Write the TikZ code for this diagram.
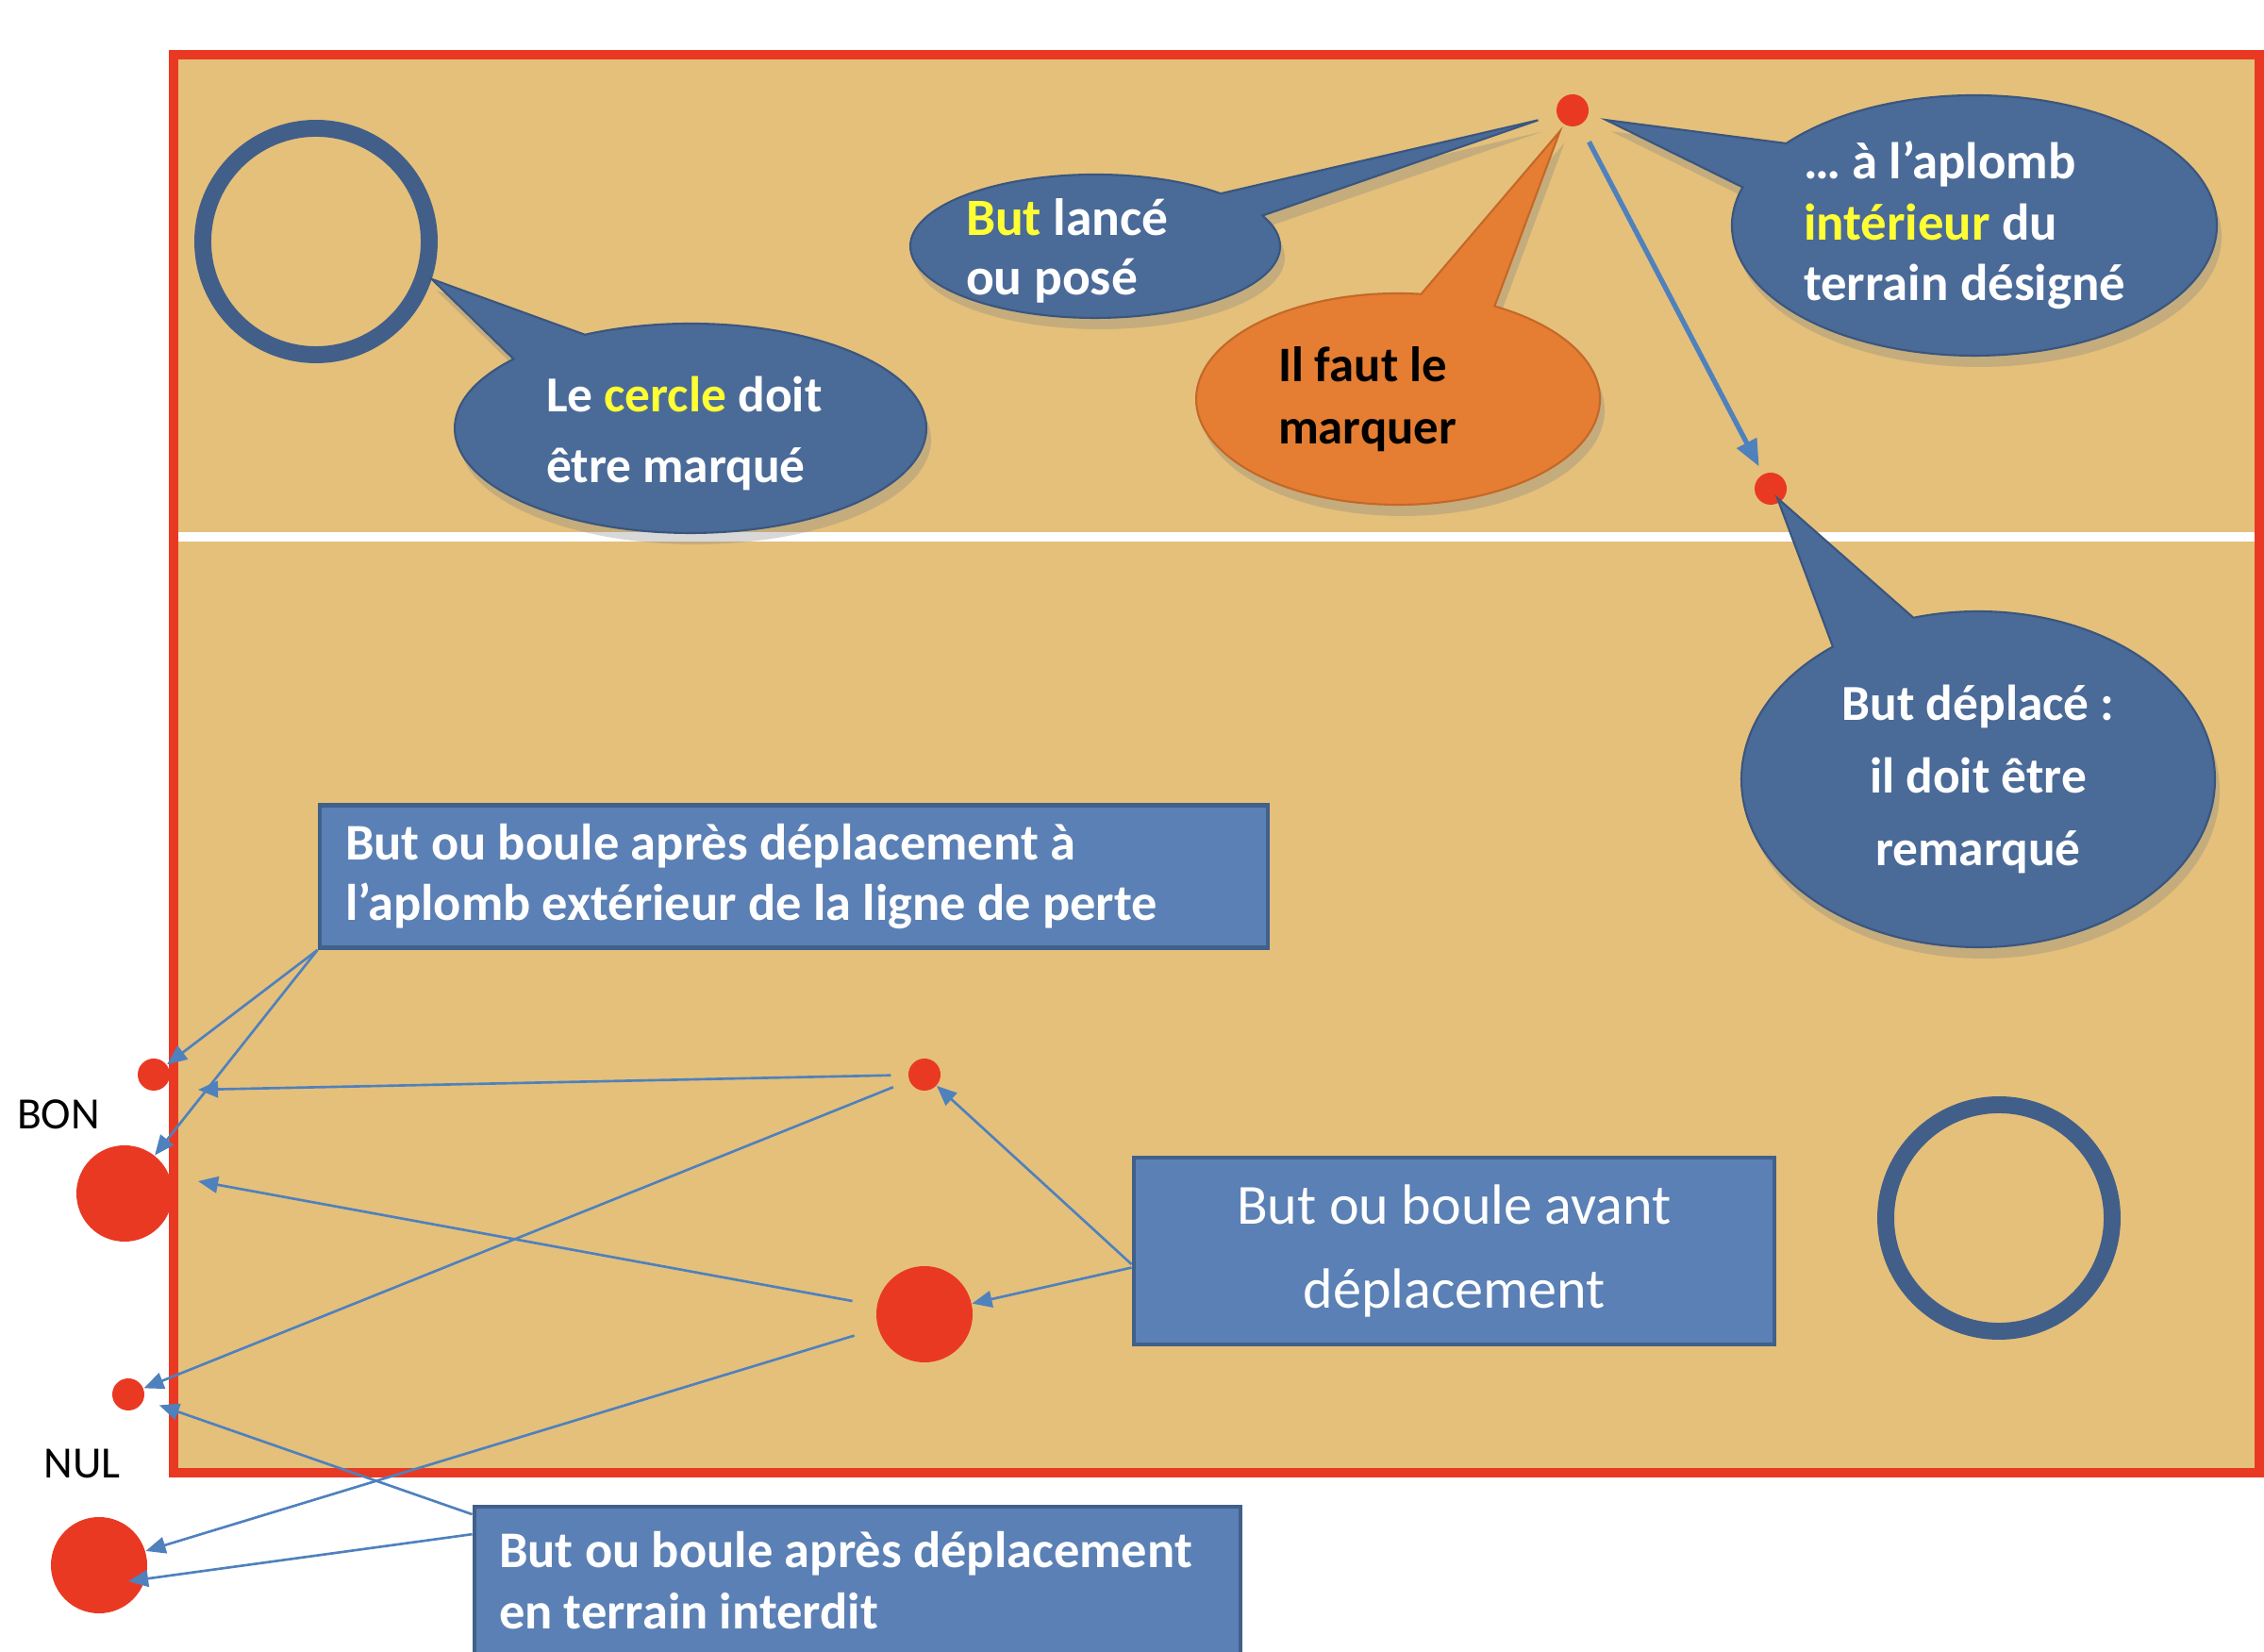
\documentclass[tikz,border=0pt]{standalone}
\usepackage{fontspec}
\setmainfont{Carlito}
\usepackage{xcolor}
\usepackage{tikz}
\usetikzlibrary{shapes.callouts,arrows.meta,shadows}
\definecolor{sand}{RGB}{228,192,123}
\definecolor{fieldred}{RGB}{233,57,35}
\definecolor{ringblue}{RGB}{65,95,137}
\definecolor{bubbleblue}{RGB}{74,106,152}
\definecolor{bubbleedge}{RGB}{58,86,126}
\definecolor{boxblue}{RGB}{91,128,181}
\definecolor{boxedge}{RGB}{65,96,138}
\definecolor{arrowblue}{RGB}{79,129,189}
\definecolor{bubbleorange}{RGB}{229,126,50}
\definecolor{orangeedge}{RGB}{196,104,40}
\definecolor{hilite}{RGB}{255,255,51}

\begin{document}
\begin{tikzpicture}[
		bubble/.style={ellipse callout,fill=bubbleblue,draw=bubbleedge,line width=0.6pt,text=white,inner sep=0pt,callout pointer arc=22,align=flush left,drop shadow={opacity=0.3,shadow xshift=0.5mm,shadow yshift=-1.2mm}},
		infobox/.style={rectangle,fill=boxblue,draw=boxedge,line width=1.4pt,text=white,inner ysep=0pt,align=flush left},
		ring/.style={circle,draw=ringblue,line width=5.1pt,minimum size=2.4cm,inner sep=0pt},
		ball/.style={circle,fill=fieldred,inner sep=0pt,minimum size=0.34cm},
		bigball/.style={ball,minimum size=1.02cm},
		moveline/.style={draw=arrowblue,line width=0.75pt,-{Triangle[length=6pt,width=5pt]}},
		]
			\useasboundingbox (0,0) rectangle (24,17.5);
			\draw[fill=sand,draw=fieldred,line width=3pt] (1.84,1.89) rectangle (23.95,16.92);
			\draw[white,line width=2.6pt] (1.89,11.81) -- (23.90,11.81);
			
			\node[ring] (ringTL) at (3.35,14.94) {};
			\node[ring] (ringBR) at (21.19,4.59) {};
			
			\node[ball] (dTop) at (16.67,16.33) {};
			\node[ball] (dMoved) at (18.77,12.32) {};
			\node[ball] (dBefore) at (9.80,6.11) {};
			\node[bigball] (bBefore) at (9.80,3.57) {};
			\node[ball] (dBon) at (1.63,6.11) {};
			\node[bigball] (bBon) at (1.32,4.85) {};
			\node[ball] (dNul) at (1.36,2.72) {};
			\node[bigball] (bNul) at (1.05,0.91) {};
			
			\node[font=\fontsize{13.5}{16}\selectfont] (bon) at (0.62,5.69) {BON};
			\node[font=\fontsize{13.5}{16}\selectfont] (nul) at (0.87,1.99) {NUL};
			
			\draw[draw=arrowblue,line width=1.5pt,-{Triangle[length=8pt,width=6.5pt]},shorten <=0.2cm,shorten >=0.09cm] (dTop) -- (dMoved);
			
			\node[bubble,minimum width=5cm,minimum height=2.22cm,text width=3.06cm,font=\bfseries\fontsize{15.2}{21.3}\selectfont,callout absolute pointer={(ringTL.-18)}] (cercle) at (7.32,12.96) {\rule{0pt}{14pt}Le \textcolor{hilite}{cercle} doit\\être marqué};
			\node[bubble,inner ysep=-2pt,minimum width=3.92cm,minimum height=1.52cm,text width=2.74cm,font=\bfseries\fontsize{15.8}{18}\selectfont,callout absolute pointer={(dTop)},callout pointer shorten=0.38cm] (lance) at (11.61,14.89) {\rule{0pt}{14pt}\textcolor{hilite}{But} lancé\\ou posé};
			\node[bubble,minimum width=5.14cm,minimum height=2.76cm,text width=3.62cm,font=\bfseries\fontsize{15.6}{18.3}\selectfont,callout absolute pointer={(dTop)},callout pointer shorten=0.37cm] (aplomb) at (20.93,15.11) {… à l’aplomb\\\textcolor{hilite}{intérieur} du\\terrain désigné};
			\node[bubble,fill=bubbleorange,draw=orangeedge,text=black,minimum width=4.28cm,minimum height=2.24cm,text width=2.54cm,font=\bfseries\fontsize{15}{18.8}\selectfont,callout absolute pointer={(dTop)},callout pointer shorten=0.26cm] (marquer) at (14.82,13.27) {Il faut le\\marquer};
			\node[bubble,align=flush center,minimum width=5.02cm,minimum height=3.56cm,text width=3.3cm,font=\bfseries\fontsize{15.2}{21.8}\selectfont,callout absolute pointer={(dMoved)},callout pointer shorten=0.12cm] (remarque) at (20.97,9.24) {But déplacé :\\il doit être\\remarqué};
			
			\node[infobox,minimum width=10.05cm,minimum height=1.51cm,text width=9.51cm,inner xsep=0.27cm,font=\bfseries\fontsize{15.5}{18.3}\selectfont] (apresBon) at (8.415,8.21) {But ou boule après déplacement à\\l’aplomb extérieur de la ligne de perte};
			\node[infobox,align=flush center,minimum width=6.79cm,minimum height=1.98cm,text width=6.2cm,inner xsep=0.29cm,font=\fontsize{17.1}{25.5}\selectfont] (avant) at (15.415,4.24) {But ou boule avant\\déplacement};
			\node[infobox,minimum width=8.12cm,minimum height=1.56cm,text width=7.6cm,inner xsep=0.26cm,font=\bfseries\fontsize{15.5}{18.3}\selectfont] (apresNul) at (9.09,0.75) {But ou boule après déplacement\\en terrain interdit};
			
			\coordinate (bonEdgeA) at (2.10,5.95);
			\coordinate (bonEdgeB) at (2.10,4.98);
			\coordinate (nulInside) at (1.36,0.74);
			
			\draw[moveline] (apresBon.south west) -- (dBon);
			\draw[moveline] (apresBon.south west) -- (bBon);
			\draw[moveline,shorten <=0.18cm] (dBefore) -- (bonEdgeA);
			\draw[moveline,shorten <=0.18cm] (dBefore) -- (dNul);
			\draw[moveline,shorten <=0.26cm] (bBefore) -- (bonEdgeB);
			\draw[moveline,shorten <=0.26cm] (bBefore) -- (bNul);
			\draw[moveline] ([yshift=-4pt]avant.west) -- (dBefore);
			\draw[moveline] ([yshift=-5pt]avant.west) -- (bBefore);
			\draw[moveline,shorten >=0.17cm] ([yshift=-3pt]apresNul.north west) -- (dNul);
			\draw[moveline] ([yshift=-9pt]apresNul.north west) -- (nulInside);
		\end{tikzpicture}
\end{document}
